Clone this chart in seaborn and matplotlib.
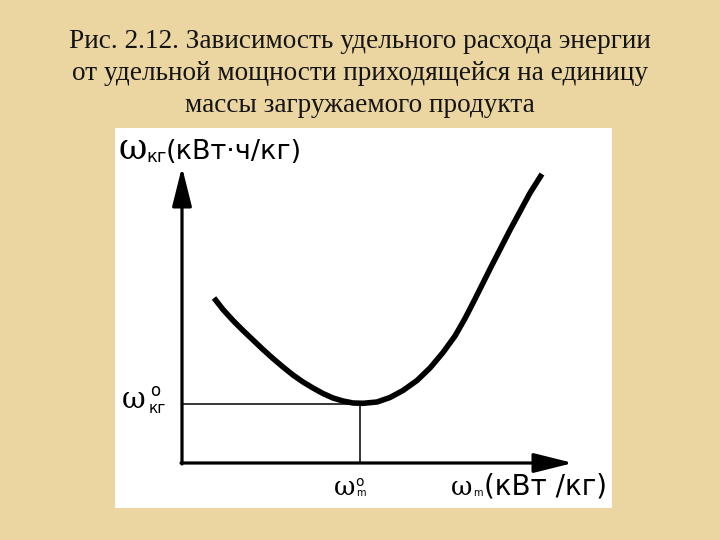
import matplotlib
matplotlib.use("Agg")
import matplotlib.pyplot as plt
import seaborn as sns
import pandas as pd
from matplotlib.patches import Rectangle

sns.set_theme(style="white")
plt.rcParams['font.family'] = ['Liberation Sans', 'DejaVu Sans']

# ---- data (arbitrary units; origin = axes corner) ----
curve_x = [3.2, 4.1, 5.1, 6.1, 7.1, 8.1, 9.1, 10.1, 11.1, 12.1, 13.1, 14.1,
           15.1, 16.1, 17.1, 18.1,
           19.5, 20.8, 22.1, 23.5, 24.8, 26.1, 27.3, 28.3, 29.2, 30.0, 30.9,
           31.8, 32.8, 33.8, 34.8, 36.0]
curve_y = [16.5, 15.35, 14.25, 13.25, 12.3, 11.35, 10.45, 9.6, 8.8, 8.1, 7.5,
           6.95, 6.5, 6.2, 6.0, 5.97,
           6.1, 6.55, 7.25, 8.25, 9.5, 11.05, 12.7, 14.45, 16.2, 17.8, 19.6,
           21.35, 23.3, 25.15, 27.0, 28.9]
opt_x = 17.8     # ω_m^o
opt_y = 5.9      # ω_кг^o
x_axis_end = 39.1
y_axis_end = 29.6

title_lines = ["Рис. 2.12. Зависимость удельного расхода энергии",
               "от удельной мощности приходящейся на единицу",
               "массы загружаемого продукта"]
y_unit = "(кВт·ч/кг)"
x_unit = "(кВт /кг)"

BG = "#ebd6a2"
INK = "black"
W, H = 720, 540
fig = plt.figure(figsize=(7.2, 5.4), dpi=100, facecolor=BG)

# white panel
fig.patches.append(Rectangle((115 / W, 1 - 508 / H), (612 - 115) / W, (508 - 128) / H,
                             transform=fig.transFigure, facecolor="white",
                             edgecolor="none", zorder=-1))

# title
for i, line in enumerate(title_lines):
    fig.text(0.5, 1 - (48 + 32 * i) / H, line, ha="center", va="baseline",
             fontsize=19.6, family="Liberation Serif", color="#141414")

# diagram axes: origin at pixel (182, 463), 10 px per unit
ax = fig.add_axes([115 / W, 1 - 508 / H, (612 - 115) / W, (508 - 128) / H])
ax.set_zorder(2)
ax.set_xlim((115 - 182) / 10, (612 - 182) / 10)
ax.set_ylim((463 - 508) / 10, (463 - 128) / 10)
ax.axis("off")

df = pd.DataFrame({"x": curve_x, "y": curve_y})
sns.lineplot(data=df, x="x", y="y", ax=ax, color=INK, linewidth=4.0,
             sort=False, solid_capstyle="butt", solid_joinstyle="round")

# reference lines
ax.plot([0, opt_x], [opt_y, opt_y], color=INK, lw=1.1)
ax.plot([opt_x, opt_x], [0, opt_y], color=INK, lw=1.1)

# axes with arrows
arrow = dict(arrowstyle="-|>,head_length=2.0,head_width=0.5", lw=2.3,
             color=INK, shrinkA=0, shrinkB=0)
ax.annotate("", xy=(0, y_axis_end), xytext=(0, -0.1), arrowprops=arrow)
ax.annotate("", xy=(x_axis_end, 0), xytext=(-0.1, 0), arrowprops=arrow)

def px(x, y):
    return ((x - 182) / 10, (463 - y) / 10)

OMEGA = dict(family="DejaVu Serif", color=INK, ha="left", va="baseline")
SANS = dict(family="DejaVu Sans", color=INK, ha="left", va="baseline")

# y-axis label
ax.text(*px(119, 159), "ω", fontsize=25, **OMEGA)
ax.text(*px(146, 162), "кг", fontsize=13, **SANS)
ax.text(*px(166, 159), y_unit, fontsize=19.5, **SANS)

# ω_кг^o
ax.text(*px(122, 408), "ω", fontsize=21, **OMEGA)
ax.text(*px(150, 396), "o", fontsize=12, **SANS)
ax.text(*px(149, 413), "кг", fontsize=11, **SANS)

# ω_m^o
ax.text(*px(334, 495), "ω", fontsize=19, **OMEGA)
ax.text(*px(355, 486), "o", fontsize=10, **SANS)
ax.text(*px(356, 496), "m", fontsize=7, **SANS)

# ω_m (кВт/кг)
ax.text(*px(451, 495), "ω", fontsize=19, **OMEGA)
ax.text(*px(473, 496), "m", fontsize=7, **SANS)
ax.text(*px(484, 494), x_unit, fontsize=20, **SANS)

fig.savefig("out.png", dpi=100, facecolor=BG)
